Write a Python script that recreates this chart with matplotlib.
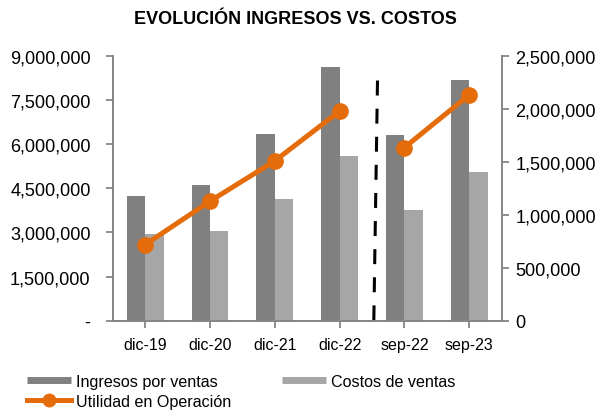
import numpy as np
import matplotlib
matplotlib.use("Agg")
import matplotlib.pyplot as plt
from matplotlib.lines import Line2D
from matplotlib.ticker import FuncFormatter


# ----------------------------------------
# DATA
# ----------------------------------------

periodos = ["dic-19", "dic-20", "dic-21", "dic-22", "sep-22", "sep-23"]

ingresos = [4240000, 4600000, 6350000, 8620000, 6320000, 8200000]

costos = [2960000, 3060000, 4130000, 5610000, 3760000, 5070000]

utilidad_anual = [719000, 1129000, 1510000, 1980000]

utilidad_sep = [1636000, 2134000]


# ----------------------------------------
# STYLE
# ----------------------------------------

plt.rcParams["font.family"] = ["Liberation Sans", "DejaVu Sans"]

c_ing = "#808080"
c_cos = "#A6A6A6"
c_util = "#E46C0A"
c_axis = "#868686"


# ----------------------------------------
# CHART
# ----------------------------------------

fig = plt.figure(figsize=(6, 4.14), dpi=100)

ax = fig.add_axes([0.188, 0.223, 0.648, 0.639])

x = np.arange(len(periodos))
w = 0.283

ax.bar(x - w / 2, ingresos, w, color=c_ing, zorder=2)
ax.bar(x + w / 2, costos, w, color=c_cos, zorder=2)

# dashed separator between year-end and September figures
ax.plot([3.585, 3.528], [8170000, 0], color="black",
        linestyle=(0, (4.9, 4.3)), linewidth=2.2, zorder=3)

ax.set_xlim(-0.5, 5.5)
ax.set_ylim(0, 9000000)
ax.set_yticks(np.arange(0, 9000001, 1500000))
ax.yaxis.set_major_formatter(
    FuncFormatter(lambda v, p: "-" if v == 0 else f"{v:,.0f}")
)
ax.set_xticks(x)
ax.set_xticklabels(periodos)

ax2 = ax.twinx()

ax2.plot(x[:4], utilidad_anual, color=c_util, linewidth=3.6,
         marker="o", markersize=11, zorder=4)
ax2.plot(x[4:], utilidad_sep, color=c_util, linewidth=3.6,
         marker="o", markersize=11, zorder=4)

ax2.set_ylim(0, 2500000)
ax2.set_yticks(np.arange(0, 2500001, 500000))
ax2.yaxis.set_major_formatter(FuncFormatter(lambda v, p: f"{v:,.0f}"))

for a in (ax, ax2):
    a.spines["top"].set_visible(False)
    for s in ("left", "right", "bottom"):
        a.spines[s].set_color(c_axis)
        a.spines[s].set_linewidth(1.3)
    a.tick_params(colors=c_axis, labelcolor="black", labelsize=13.1,
                  length=5, width=1.3)

ax.tick_params(axis="x", pad=7, labelsize=11.5)
ax.tick_params(axis="y", pad=11)
ax2.tick_params(axis="y", pad=5)

fig.text(0.492, 0.952, "EVOLUCIÓN INGRESOS VS. COSTOS",
         ha="center", va="center", fontsize=13, fontweight="bold")


# ----------------------------------------
# LEGEND
# ----------------------------------------

handles = [
    Line2D([], [], color=c_ing, linewidth=5, solid_capstyle="butt"),
    Line2D([], [], color=c_util, linewidth=3.6, marker="o", markersize=9),
    Line2D([], [], color=c_cos, linewidth=5, solid_capstyle="butt"),
]
labels = ["Ingresos por ventas", "Utilidad en Operación", "Costos de ventas"]

fig.legend(handles, labels, ncol=2, loc="upper left",
           bbox_to_anchor=(0.045, 0.094), frameon=False, fontsize=11.6,
           handlelength=2.75, handletextpad=0.3, columnspacing=3.15,
           labelspacing=0.3, borderpad=0, borderaxespad=0)

fig.savefig("out.png", dpi=100)
